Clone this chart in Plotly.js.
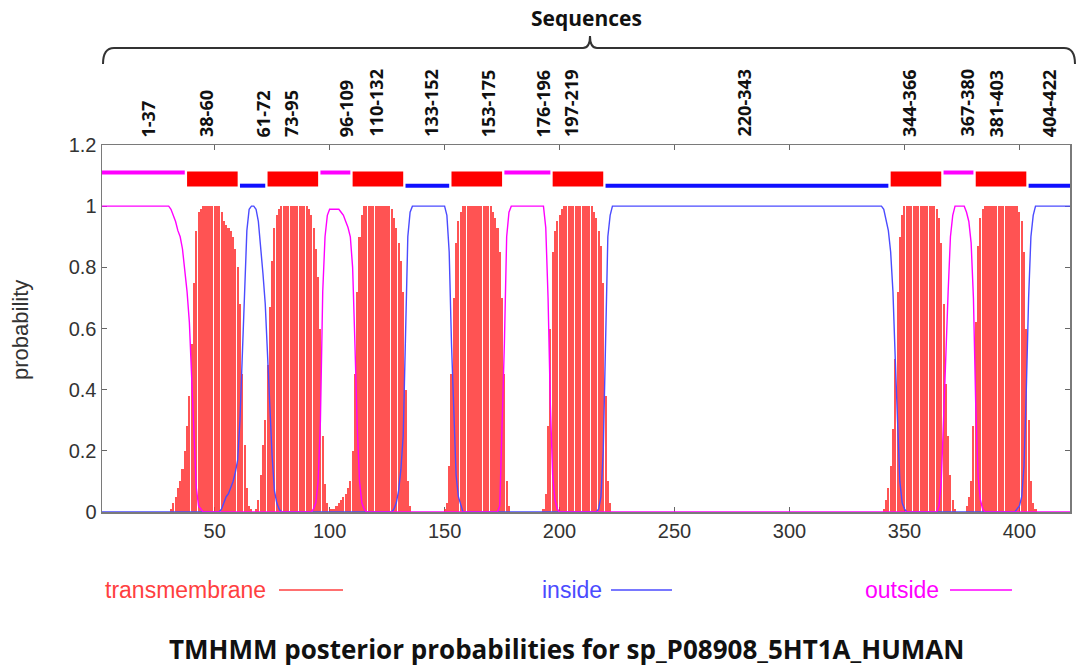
<!DOCTYPE html>
<html>
<head>
<meta charset="utf-8">
<script src="https://cdn.plot.ly/plotly-3.0.1.min.js"></script>
<style>html,body{margin:0;padding:0;background:#fff;}#chart{width:1080px;height:669px;}</style>
</head>
<body>
<div id="chart"></div>
<script>
// Posterior probability per residue (1..422)
const tmProb = [
0,0,0,0,0,0,0,0,0,0,
0,0,0,0,0,0,0,0,0,0,
0,0,0,0,0,0,0,0,0,0,
.01,.03,.05,.08,.1,.14,.2,.28,.38,.55,
.75,.92,.98,.99,1,1,1,1,1,1,
1,1,.98,.95,.94,.93,.92,.9,.86,.8,
.68,.45,.22,.08,.02,.01,0,.01,.04,.12,
.22,.3,.48,.67,.82,.93,.97,.99,1,1,
1,1,1,1,1,1,1,1,1,1,
.99,.97,.93,.86,.77,.6,.25,.09,.03,.01,
.01,.01,.02,.03,.04,.05,.06,.08,.1,.2,
.45,.72,.9,.97,1,1,1,1,1,1,
1,1,1,1,1,1,.99,.96,.93,.88,
.82,.72,.4,.1,.02,0,0,0,0,0,
0,0,0,0,0,0,0,0,0,.01,
.03,.15,.45,.7,.88,.95,.98,1,1,1,
1,1,1,1,1,1,1,1,1,1,
.98,.96,.93,.85,.7,.45,.1,.02,0,0,
0,0,0,0,0,0,0,0,0,0,
0,0,.01,.06,.28,.6,.85,.92,.95,.97,
.99,1,1,1,1,1,1,1,1,1,
1,1,1,1,.98,.96,.92,.87,.75,.38,
.1,.03,0,0,0,0,0,0,0,0,
0,0,0,0,0,0,0,0,0,0,
0,0,0,0,0,0,0,0,0,0,
0,0,0,0,0,0,0,0,0,0,
0,0,0,0,0,0,0,0,0,0,
0,0,0,0,0,0,0,0,0,0,
0,0,0,0,0,0,0,0,0,0,
0,0,0,0,0,0,0,0,0,0,
0,0,0,0,0,0,0,0,0,0,
0,0,0,0,0,0,0,0,0,0,
0,0,0,0,0,0,0,0,0,0,
0,0,0,0,0,0,0,0,0,0,
.01,.04,.08,.15,.27,.5,.72,.9,.97,1,
1,1,1,1,1,1,1,1,1,1,
1,1,1,.99,.96,.88,.68,.42,.25,.12,
.04,.01,0,0,0,0,.02,.05,.1,.28,
.62,.87,.96,.99,1,1,1,1,1,1,
1,1,1,1,1,1,1,1,1,.98,
.95,.85,.6,.3,.1,.03,.01,0,0,0,
0,0,0,0,0,0,0,0,0,0,
0,0
];
const insideProb = [
0,0,0,0,0,0,0,0,0,0,
0,0,0,0,0,0,0,0,0,0,
0,0,0,0,0,0,0,0,0,0,
0,0,0,0,0,0,0,0,0,0,
0,0,0,0,0,0,0,0,0,0,
0,0,.01,.03,.05,.06,.08,.1,.13,.17,
.3,.5,.76,.92,.99,1,1,.99,.95,.87,
.78,.68,.5,.33,.18,.07,.03,.01,0,0,
0,0,0,0,0,0,0,0,0,0,
0,0,0,0,0,0,0,0,0,0,
0,0,0,0,0,0,0,0,0,0,
0,0,0,0,0,0,0,0,0,0,
0,0,0,0,0,0,0,.01,.03,.07,
.14,.25,.6,.9,.98,1,1,1,1,1,
1,1,1,1,1,1,1,1,1,1,
.97,.85,.55,.3,.12,.05,.02,0,0,0,
0,0,0,0,0,0,0,0,0,0,
0,0,0,0,0,0,0,0,0,0,
0,0,0,0,0,0,0,0,0,0,
0,0,0,0,0,0,0,0,0,0,
0,0,0,0,0,0,0,0,0,0,
0,0,0,0,0,0,.01,.05,.2,.6,
.9,.97,1,1,1,1,1,1,1,1,
1,1,1,1,1,1,1,1,1,1,
1,1,1,1,1,1,1,1,1,1,
1,1,1,1,1,1,1,1,1,1,
1,1,1,1,1,1,1,1,1,1,
1,1,1,1,1,1,1,1,1,1,
1,1,1,1,1,1,1,1,1,1,
1,1,1,1,1,1,1,1,1,1,
1,1,1,1,1,1,1,1,1,1,
1,1,1,1,1,1,1,1,1,1,
1,1,1,1,1,1,1,1,1,1,
1,1,1,1,1,1,1,1,1,1,
.99,.96,.92,.85,.72,.5,.3,.1,.03,.01,
0,0,0,0,0,0,0,0,0,0,
0,0,0,0,0,0,0,0,0,0,
0,0,0,0,0,0,0,0,0,0,
0,0,0,0,0,0,0,0,0,0,
0,0,0,0,0,0,0,0,.01,.02,
.05,.15,.4,.7,.9,.97,1,1,1,1,
1,1,1,1,1,1,1,1,1,1,
1,1
];
const outsideProb = [
1,1,1,1,1,1,1,1,1,1,
1,1,1,1,1,1,1,1,1,1,
1,1,1,1,1,1,1,1,1,1,
.99,.97,.95,.92,.9,.86,.8,.72,.62,.45,
.25,.08,.02,.01,0,0,0,0,0,0,
0,0,0,0,0,0,0,0,0,0,
0,0,0,0,0,0,0,0,0,0,
0,0,0,0,0,0,0,0,0,0,
0,0,0,0,0,0,0,0,0,0,
0,0,.01,.03,.1,.3,.72,.9,.97,.99,
.99,.99,.99,.99,.98,.97,.95,.93,.9,.8,
.55,.28,.1,.03,.01,0,0,0,0,0,
0,0,0,0,0,0,0,0,0,0,
0,0,0,0,0,0,0,0,0,0,
0,0,0,0,0,0,0,0,0,0,
0,0,0,0,0,0,0,0,0,0,
0,0,0,0,0,0,0,0,0,0,
0,0,0,.02,.25,.55,.9,.98,1,1,
1,1,1,1,1,1,1,1,1,1,
1,1,1,.93,.7,.35,.12,.04,.01,0,
0,0,0,0,0,0,0,0,0,0,
0,0,0,0,0,0,0,0,0,0,
0,0,0,0,0,0,0,0,0,0,
0,0,0,0,0,0,0,0,0,0,
0,0,0,0,0,0,0,0,0,0,
0,0,0,0,0,0,0,0,0,0,
0,0,0,0,0,0,0,0,0,0,
0,0,0,0,0,0,0,0,0,0,
0,0,0,0,0,0,0,0,0,0,
0,0,0,0,0,0,0,0,0,0,
0,0,0,0,0,0,0,0,0,0,
0,0,0,0,0,0,0,0,0,0,
0,0,0,0,0,0,0,0,0,0,
0,0,0,0,0,0,0,0,0,0,
0,0,0,0,0,0,0,0,0,0,
0,0,0,0,0,0,0,0,0,0,
0,0,0,0,.02,.1,.3,.55,.72,.9,
.97,1,1,1,1,1,.98,.95,.88,.7,
.35,.12,.04,.01,0,0,0,0,0,0,
0,0,0,0,0,0,0,0,0,0,
0,0,0,0,0,0,0,0,0,0,
0,0,0,0,0,0,0,0,0,0,
0,0
];

// Predicted topology segments
const segStart = [1, 38, 61, 73, 96, 110, 133, 153, 176, 197, 220, 344, 367, 381, 404];
const segEnd   = [37, 60, 72, 95, 109, 132, 152, 175, 196, 219, 343, 366, 380, 403, 422];
const segType  = ['outside','TM','inside','TM','outside','TM','inside','TM','outside','TM','inside','TM','outside','TM','inside'];
const segLabels = ['1-37','38-60','61-72','73-95','96-109','110-132','133-152','153-175','176-196','197-219','220-343','344-366','367-380','381-403','404-422'];
// label positions (residue units) as placed in the picture
const segLabelX = [21, 46, 71, 83, 107, 120, 144, 169, 193, 205, 280, 352, 377, 390, 413];

const xTicks = [50, 100, 150, 200, 250, 300, 350, 400];
const yTicks = [0, 0.2, 0.4, 0.6, 0.8, 1, 1.2];
const yTickText = ['0', '0.2', '0.4', '0.6', '0.8', '1', '1.2'];

const residue = tmProb.map((_, i) => i + 1);

const C_TM = '#ff4040', C_IN = '#4b4bff', C_OUT = '#ff00ff';
const levelY = {outside: 1.11, TM: 1.089, inside: 1.067};

function segTrace(type, color, width) {
  const xs = [], ys = [];
  segType.forEach((t, i) => {
    if (t === type) { xs.push(segStart[i], segEnd[i], null); ys.push(levelY[type], levelY[type], null); }
  });
  return {x: xs, y: ys, type: 'scatter', mode: 'lines', line: {color: color, width: width}, hoverinfo: 'skip', showlegend: false};
}

const traces = [
  {x: residue, y: tmProb, type: 'bar', width: 0.9, marker: {color: 'rgba(255,45,45,0.82)', line: {width: 0}}, showlegend: false},
  {x: residue, y: insideProb, type: 'scatter', mode: 'lines', line: {color: C_IN, width: 1.4}, showlegend: false},
  {x: residue, y: outsideProb, type: 'scatter', mode: 'lines', line: {color: C_OUT, width: 1.4}, showlegend: false},
  segTrace('TM', '#ff0000', 15),
  segTrace('inside', '#1010ff', 4),
  segTrace('outside', C_OUT, 4)
];

// pixel -> paper helpers for decorations
const L = 102, W = 968, B = 512, H = 367;
const px = p => (p - L) / W;
const py = p => (B - p) / H;

const annotations = segLabels.map((t, i) => ({
  text: '<b>' + t + '</b>', x: segLabelX[i], xref: 'x', y: py(139), yref: 'paper',
  xanchor: 'center', yanchor: 'bottom', textangle: -90, showarrow: false,
  font: {family: 'Open Sans', size: 18, color: '#111'}
}));
annotations.push(
  {text: '<b>Sequences</b>', x: px(586), y: py(18), xref: 'paper', yref: 'paper', showarrow: false,
   xanchor: 'center', yanchor: 'middle', font: {family: 'Open Sans', size: 21, color: '#111'}},
  {text: 'probability', x: px(20), y: py(330), xref: 'paper', yref: 'paper', showarrow: false,
   textangle: -90, xanchor: 'center', yanchor: 'middle', font: {family: 'Liberation Sans', size: 22, color: '#333'}},
  {text: 'transmembrane', x: px(268), y: py(590), xref: 'paper', yref: 'paper', showarrow: false,
   xanchor: 'right', yanchor: 'middle', font: {family: 'Liberation Sans', size: 23, color: C_TM}},
  {text: 'inside', x: px(604), y: py(590), xref: 'paper', yref: 'paper', showarrow: false,
   xanchor: 'right', yanchor: 'middle', font: {family: 'Liberation Sans', size: 23, color: C_IN}},
  {text: 'outside', x: px(941), y: py(590), xref: 'paper', yref: 'paper', showarrow: false,
   xanchor: 'right', yanchor: 'middle', font: {family: 'Liberation Sans', size: 23, color: C_OUT}},
  {text: '<b>TMHMM posterior probabilities for sp_P08908_5HT1A_HUMAN</b>', x: px(566), y: py(649),
   xref: 'paper', yref: 'paper', showarrow: false, xanchor: 'center', yanchor: 'middle',
   font: {family: 'Open Sans', size: 26, color: '#111'}}
);

function bracePath() {
  const pts = (a, b) => px(a) + ',' + py(b);
  return 'M ' + pts(103, 64) + ' Q ' + pts(103, 48) + ' ' + pts(114, 48) +
         ' L ' + pts(583, 48) + ' Q ' + pts(590, 48) + ' ' + pts(590, 36) +
         ' Q ' + pts(590, 48) + ' ' + pts(597, 48) +
         ' L ' + pts(1064, 48) + ' Q ' + pts(1075, 48) + ' ' + pts(1075, 64);
}

const shapes = [
  {type: 'path', xref: 'paper', yref: 'paper', path: bracePath(), line: {color: '#333', width: 2}},
  {type: 'line', xref: 'paper', yref: 'paper', x0: px(279), x1: px(343), y0: py(590), y1: py(590), line: {color: C_TM, width: 1.5}},
  {type: 'line', xref: 'paper', yref: 'paper', x0: px(611), x1: px(672), y0: py(590), y1: py(590), line: {color: C_IN, width: 1.5}},
  {type: 'line', xref: 'paper', yref: 'paper', x0: px(950), x1: px(1012), y0: py(590), y1: py(590), line: {color: C_OUT, width: 1.5}}
];

const layout = {
  width: 1080, height: 669,
  margin: {l: L, r: 10, t: 145, b: 157},
  paper_bgcolor: '#fff', plot_bgcolor: '#fff',
  showlegend: false, bargap: 0,
  xaxis: {range: [1, 422], tickvals: xTicks, ticks: 'inside', ticklen: 5, tickcolor: '#666', layer: 'below traces',
          showline: true, linecolor: '#7a7a7a', linewidth: 1.5, mirror: 'ticks',
          showgrid: false, zeroline: false, tickfont: {family: 'Liberation Sans', size: 20, color: '#333'}},
  yaxis: {range: [0, 1.2], tickvals: yTicks, ticktext: yTickText, ticks: 'inside', ticklen: 5, tickcolor: '#666', layer: 'below traces',
          showline: true, linecolor: '#7a7a7a', linewidth: 1.5, mirror: 'ticks',
          showgrid: false, zeroline: false, tickfont: {family: 'Liberation Sans', size: 20, color: '#333'}},
  annotations: annotations,
  shapes: shapes
};

Plotly.newPlot('chart', traces, layout, {displayModeBar: false, staticPlot: true});
</script>
</body>
</html>
